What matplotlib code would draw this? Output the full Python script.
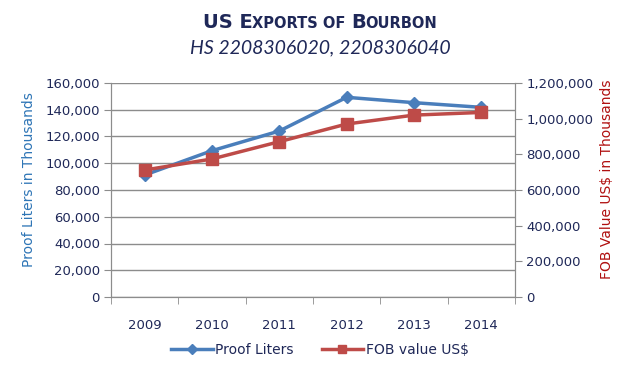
import matplotlib
matplotlib.use("Agg")
import matplotlib.pyplot as plt
from matplotlib.offsetbox import TextArea, HPacker, AnchoredOffsetbox

years = ["2009", "2010", "2011", "2012", "2013", "2014"]
proof_liters = [91200, 109400, 124100, 149300, 145300, 141800]
fob_value = [712000, 774000, 871000, 970000, 1020000, 1035000]

blue = "#4A7EBB"
red = "#BE4B48"
navy = "#1F2858"
grid = "#8C8C8C"

fig = plt.figure(figsize=(6.4, 3.71), dpi=100)
ax = fig.add_axes([111 / 640, 1 - 297 / 371, 404 / 640, 214 / 371])
ax2 = ax.twinx()

x = list(range(len(years)))
ax.plot(x, proof_liters, color=blue, lw=2.5, marker="D", ms=6.5, zorder=3, label="Proof Liters")
ax2.plot(x, fob_value, color=red, lw=2.5, marker="s", ms=8, zorder=3, label="FOB value US$")

ax.set_xlim(-0.5, len(years) - 0.5)
ax.set_ylim(0, 160000)
ax2.set_ylim(0, 1200000)
ax.set_yticks(range(0, 160001, 20000))
ax2.set_yticks(range(0, 1200001, 200000))
ax.yaxis.grid(True, color=grid, lw=1)
ax.set_axisbelow(True)

ax.yaxis.set_major_formatter(matplotlib.ticker.FuncFormatter(lambda v, p: f"{int(v):,}"))
ax2.yaxis.set_major_formatter(matplotlib.ticker.FuncFormatter(lambda v, p: f"{int(v):,}"))

ax.set_xticks(x)
ax.set_xticklabels(years)
ax.set_xticks([i - 0.5 for i in range(len(years) + 1)], minor=True)
ax.tick_params(axis="x", which="major", length=0, pad=16, labelsize=9.5, labelcolor=navy)
ax.tick_params(axis="x", which="minor", length=5, color=grid)
ax.tick_params(axis="y", length=5, color=grid, labelsize=9.5, labelcolor=navy, pad=3)
ax2.tick_params(axis="y", length=5, color=grid, labelsize=9.5, labelcolor=navy, pad=3)

for a in (ax, ax2):
    a.spines["top"].set_visible(False)
    for s in ("left", "right", "bottom"):
        a.spines[s].set_color(grid)

ax.set_ylabel("Proof Liters in Thousands", color="#2E75B6", fontsize=10, fontweight="medium")
ax2.set_ylabel("FOB Value US$ in Thousands", color="#B01010", fontsize=10, fontweight="medium", rotation=90)
ax.yaxis.set_label_coords(-0.185, 0.55)
ax2.yaxis.set_label_coords(1.211, 0.55)

# title with fake small caps
pieces = [("US E", 14), ("XPORTS OF ", 10.5), ("B", 14), ("OURBON", 10.5)]
boxes = [TextArea(t, textprops=dict(fontsize=s, fontweight="bold", color=navy)) for t, s in pieces]
title = HPacker(children=boxes, align="baseline", pad=0, sep=0)
fig.add_artist(AnchoredOffsetbox(loc="center", child=title, frameon=False,
                                 bbox_to_anchor=(0.5, 1 - 22 / 371), bbox_transform=fig.transFigure, pad=0))
fig.text(0.5, 1 - 48 / 371, "HS 2208306020, 2208306040", ha="center", va="center",
         fontsize=14, fontstyle="italic", color=navy, family="Lato")

h1, l1 = ax.get_legend_handles_labels()
h2, l2 = ax2.get_legend_handles_labels()
fig.legend(h1 + h2, l1 + l2, loc="center", bbox_to_anchor=(0.5, 1 - 350 / 371), ncol=2,
           frameon=False, fontsize=10, labelcolor=navy, handlelength=3, handletextpad=0.2,
           columnspacing=2, markerscale=0.8)

fig.savefig("out.png", dpi=100)
